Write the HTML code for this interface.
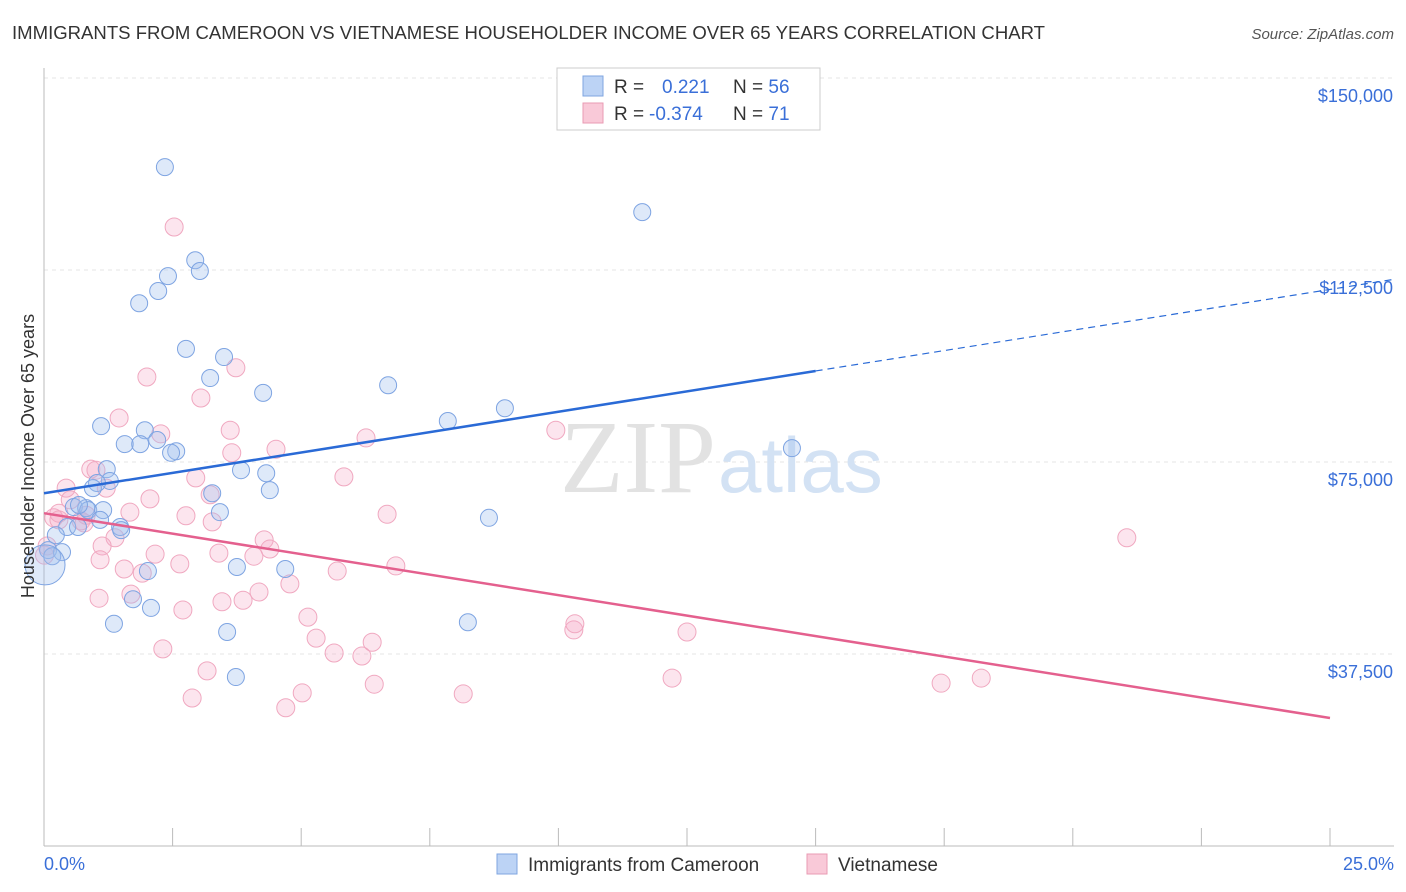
<!DOCTYPE html>
<html><head><meta charset="utf-8"><style>
body{margin:0;background:#fff;font-family:"Liberation Sans",sans-serif;}
svg{display:block}
</style></head><body>
<svg id="chart" width="1406" height="892">
<text x="12" y="39" font-size="18" fill="#333" textLength="1033" lengthAdjust="spacingAndGlyphs">IMMIGRANTS FROM CAMEROON VS VIETNAMESE HOUSEHOLDER INCOME OVER 65 YEARS CORRELATION CHART</text>
<text x="1394" y="39" font-size="15" fill="#555" text-anchor="end" font-style="italic">Source: ZipAtlas.com</text>
<g id="grid"></g>
<text x="716" y="492" font-size="104" fill="#e2e2e2" text-anchor="end" font-family="Liberation Serif">ZIP</text>
<text x="718" y="492" font-size="78" fill="#d3e2f4">atlas</text>
<g id="pts"></g>
<g id="lines"></g>
<text transform="translate(34,456) rotate(-90)" font-size="18" fill="#333" text-anchor="middle">Householder Income Over 65 years</text>
<text x="44" y="870" font-size="18" fill="#3a6fd8">0.0%</text>
<text x="1394" y="870" font-size="18" fill="#3a6fd8" text-anchor="end">25.0%</text>
<g>
<rect x="557" y="68" width="263" height="62" fill="#fff" stroke="#ccc"/>
<rect x="583" y="76" width="20" height="20" fill="#bcd3f5" stroke="#7fa6e0"/>
<rect x="583" y="103" width="20" height="20" fill="#f9c9d8" stroke="#e99bb3"/>
<text x="614" y="93" font-size="19" fill="#333">R = <tspan fill="#3a6fd8" x="662">0.221</tspan><tspan x="733">N = </tspan><tspan fill="#3a6fd8">56</tspan></text>
<text x="614" y="120" font-size="19" fill="#333">R = <tspan fill="#3a6fd8" x="649">-0.374</tspan><tspan x="733">N = </tspan><tspan fill="#3a6fd8"> 71</tspan></text>
</g>
<g>
<rect x="497" y="854" width="20" height="20" fill="#bcd3f5" stroke="#7fa6e0"/>
<text x="528" y="871" font-size="19" fill="#333">Immigrants from Cameroon</text>
<rect x="807" y="854" width="20" height="20" fill="#f9c9d8" stroke="#e99bb3"/>
<text x="838" y="871" font-size="19" fill="#333">Vietnamese</text>
</g>
</svg>
<script>
const yTicks=[37500,75000,112500,150000];
const yTickLabels=["$37,500","$75,000","$112,500","$150,000"];
const xTicks=[0,2.5,5,7.5,10,12.5,15,17.5,20,22.5,25];
const blueX=[2.35,11.63,2.94,2.41,3.03,2.22,1.85,2.76,3.50,3.23,4.26,6.69,8.96,7.85,1.11,1.96,1.57,1.87,2.20,2.57,2.47,3.83,1.22,4.32,1.28,1.03,0.95,3.27,4.39,0.58,0.82,0.86,1.15,3.42,8.65,1.48,1.50,0.45,0.66,0.23,0.08,0.35,0.16,0.02,2.02,3.75,4.69,1.73,2.08,1.36,3.56,8.24,3.73,14.54,0.68,1.09];
const blueY=[132.6,123.8,114.4,111.3,112.3,108.4,106.0,97.1,95.5,91.4,88.5,90.0,85.5,83.0,82.0,81.2,78.5,78.5,79.3,77.1,76.8,73.4,73.6,72.8,71.3,70.9,69.9,68.9,69.5,66.2,66.0,65.6,65.6,65.2,64.1,62.3,61.7,62.3,62.3,60.7,57.8,57.4,56.6,54.9,53.7,54.5,54.1,48.2,46.5,43.4,41.8,43.7,33.0,77.7,66.6,63.7];
const pinkX=[2.53,2.00,3.73,3.05,1.46,6.26,2.27,9.95,3.65,4.51,0.91,5.83,2.95,1.21,0.43,2.06,3.23,6.67,0.19,2.76,1.67,0.29,0.72,0.78,3.27,21.05,1.38,1.13,4.28,0.06,2.16,3.40,4.39,4.08,1.56,2.64,1.91,5.70,6.84,0.01,1.07,1.69,4.18,3.46,3.87,2.70,4.78,5.13,5.29,6.38,10.30,12.50,10.32,5.64,6.18,2.31,3.17,6.42,5.02,8.15,12.21,17.44,18.22,2.88,4.70,0.29,0.51,1.09,1.01,3.62,0.82];
const pinkY=[120.9,91.6,93.4,87.5,83.6,79.7,80.5,81.2,76.8,77.5,73.6,72.1,71.9,69.9,69.9,67.8,68.6,64.8,64.1,64.5,65.2,65.0,63.5,63.1,63.3,60.2,60.2,58.6,59.8,58.6,57.0,57.2,58.0,56.6,54.1,55.1,53.3,53.7,54.7,56.8,48.4,49.2,49.6,47.7,48.0,46.1,51.2,44.7,40.6,39.8,42.2,41.8,43.4,37.7,37.1,38.5,34.2,31.6,29.9,29.7,32.8,31.8,32.8,28.9,27.0,63.7,67.6,55.9,73.4,81.2,64.6];
const blueTrend=[68.9,108.7];
const pinkTrend=[65.0,25.0];
const NS="http://www.w3.org/2000/svg";
const X=v=>44+v/25*1286;
const Y=v=>846-v*1000/37500*192;
function mk(tag,attrs,parent){const e=document.createElementNS(NS,tag);for(const k in attrs)e.setAttribute(k,attrs[k]);parent.appendChild(e);return e;}
const grid=document.getElementById('grid');
yTicks.forEach((t,i)=>{
  const l=mk('line',{x1:44,x2:1394,y1:Y(t/1000),y2:Y(t/1000),stroke:'#e6e6e6','stroke-dasharray':'4,4'},grid);
  
  
  const tx=mk('text',{x:1393,y:Y(t/1000)+24,'font-size':18,fill:'#3a6fd8','text-anchor':'end'},grid);
  tx.textContent=yTickLabels[i];
  
  
});
const ax=mk('line',{x1:44,x2:44,y1:68,y2:846,stroke:'#bbb'},grid);


const bx=mk('line',{x1:44,x2:1394,y1:846,y2:846,stroke:'#bbb'},grid);


xTicks.forEach(t=>{
  const l=mk('line',{x1:X(t),x2:X(t),y1:828,y2:846,stroke:'#bbb'},grid);
  
  
});
const pts=document.getElementById('pts');
pinkX.forEach((x,i)=>{
  const c=mk('circle',{cx:X(x),cy:Y(pinkY[i]),r:9,fill:'rgba(245,170,198,0.3)',stroke:'#f0a8c0','stroke-width':1},pts);
  
  
});
blueX.forEach((x,i)=>{
  const c=mk('circle',{cx:X(x),cy:Y(blueY[i]),r:(i===43?20:8.5),fill:'rgba(160,192,238,0.35)',stroke:'#7ea4e2','stroke-width':1},pts);
  
  
});
const lines=document.getElementById('lines');
const bAt=x=>blueTrend[0]+(blueTrend[1]-blueTrend[0])*x/25;
const b1=mk('line',{x1:X(0),y1:Y(bAt(0)),x2:X(15),y2:Y(bAt(15)),stroke:'#2a6ad6','stroke-width':2.5},lines);


const b2=mk('line',{x1:X(15),y1:Y(bAt(15)),x2:X(26.2),y2:Y(bAt(26.2)),stroke:'#2a6ad6','stroke-width':1.2,'stroke-dasharray':'7,5'},lines);


const p1=mk('line',{x1:X(0),y1:Y(pinkTrend[0]),x2:X(25),y2:Y(pinkTrend[1]),stroke:'#e4608e','stroke-width':2.5},lines);


</script>
</body></html>
